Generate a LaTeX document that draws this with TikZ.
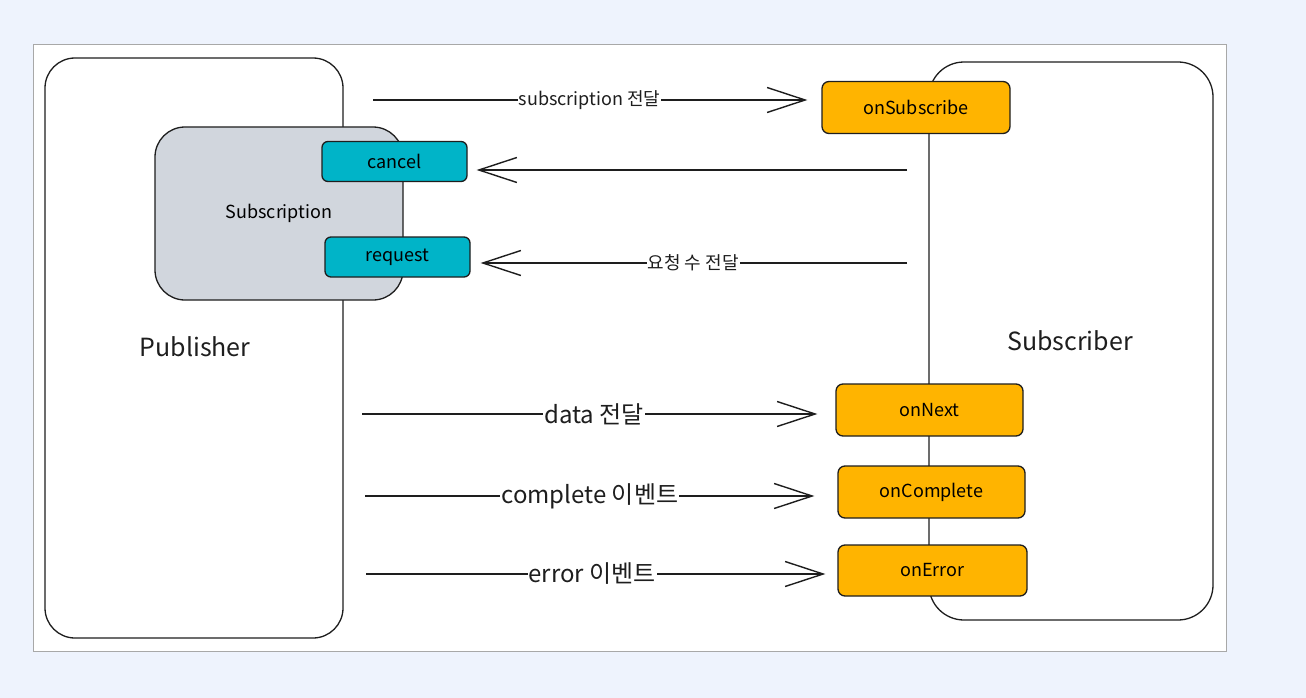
\documentclass[tikz,border=0pt]{standalone}
\usepackage{fontspec}
\setmainfont{Noto Sans CJK KR}
\usetikzlibrary{arrows.meta}
\definecolor{bgblue}{HTML}{EEF3FD}
\definecolor{panelline}{HTML}{A8A8A8}
\definecolor{orng}{HTML}{FFB400}
\definecolor{cyn}{HTML}{00B4C8}
\definecolor{gry}{HTML}{D1D6DD}
\definecolor{ink}{HTML}{1E1E1E}
\tikzset{
  bigbox/.style={draw=ink, line width=1.3pt, fill=white, rounded corners=30pt, inner sep=0pt},
  subbox/.style={draw=ink, line width=1.3pt, fill=gry, rounded corners=30pt, inner sep=0pt, font=\fontsize{18}{22}\selectfont},
  opbox/.style={draw=ink, line width=1.3pt, fill=cyn, rounded corners=6pt, inner sep=0pt, minimum width=145pt, minimum height=40pt, font=\fontsize{18}{22}\selectfont},
  hookbox/.style={draw=ink, line width=1.3pt, fill=orng, rounded corners=7pt, inner sep=0pt, minimum width=188pt, minimum height=52pt, font=\fontsize{18}{22}\selectfont},
  arr/.style={draw=ink, line width=1.4pt, -{Straight Barb[length=38pt,width=25pt,line width=1.4pt]}},
  lbl/.style={fill=white, inner sep=1pt, text=ink, font=\fontsize{18}{22}\selectfont},
  lblbig/.style={fill=white, inner sep=1pt, text=ink, font=\fontsize{24}{28}\selectfont},
  title/.style={text=ink, font=\fontsize{25}{30}\selectfont},
}
\begin{document}
\begin{tikzpicture}[x=1pt,y=-1pt]
\fill[bgblue] (0,0) rectangle (1306,698);
\useasboundingbox (0,0) rectangle (1306,698);
\node[draw=panelline, line width=1pt, fill=white, minimum width=1193pt, minimum height=606pt, inner sep=0pt] (panel) at (629.5,348) {};

% Publisher side
\node[bigbox, minimum width=298pt, minimum height=580pt] (publisher) at (194,348) {};
\node[title] (publabel) at (195,347) {Publisher};
\node[subbox, minimum width=248pt, minimum height=173pt] (subscription) at (279,213.5) {Subscription};
\node[opbox] (cancel) at (394.5,161.5) {cancel};
\node[opbox] (request) at (397.5,257) {request};

% Subscriber side
\node[bigbox, rounded corners=35pt, minimum width=284pt, minimum height=558pt] (subscriber) at (1071,341) {};
\node[title] (sublabel) at (1070,341) {Subscriber};
\node[hookbox] (onSubscribe) at (916,107.5) {onSubscribe};
\node[hookbox, minimum width=187pt] (onNext) at (929.5,410) {onNext};
\node[hookbox, minimum width=187pt] (onComplete) at (931.5,492) {onComplete};
\node[hookbox, minimum width=189pt, minimum height=51pt] (onError) at (932.5,570.5) {onError};

% connectors
\coordinate (a1) at (373,100);
\coordinate (a2) at (907,170);
\coordinate (a3) at (907,263);
\coordinate (a4) at (362,414);
\coordinate (a5) at (365,496);
\coordinate (a6) at (366,574);

\draw[arr, shorten >=14pt] (a1) -- (a1 -| onSubscribe.west) node[lbl, pos=0.483] (l1) {subscription 전달};
\draw[arr, shorten >=9pt] (a2) -- (a2 -| cancel.east);
\draw[arr, shorten >=10pt] (a3) -- (a3 -| request.east) node[lbl, pos=0.49] (l3) {요청 수 전달};
\draw[arr, shorten >=18pt] (a4) -- (a4 -| onNext.west) node[lblbig, pos=0.49] (l4) {data 전달};
\draw[arr, shorten >=23pt] (a5) -- (a5 -| onComplete.west) node[lblbig, pos=0.476] (l5) {complete 이벤트};
\draw[arr, shorten >=12pt] (a6) -- (a6 -| onError.west) node[lblbig, pos=0.48] (l6) {error 이벤트};
\end{tikzpicture}
\end{document}
